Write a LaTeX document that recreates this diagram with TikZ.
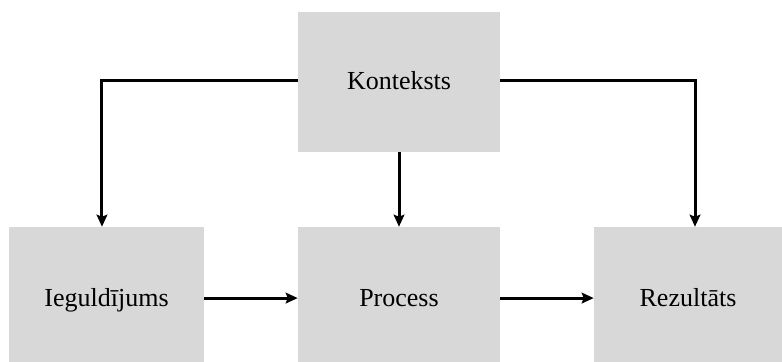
\documentclass[tikz,border=0pt]{standalone}
\usepackage{fontspec}
\setmainfont{Liberation Serif}
\usetikzlibrary{arrows.meta}
\definecolor{boxgray}{RGB}{216,216,216}
\begin{document}
\begin{tikzpicture}[x=0.75pt,y=-0.75pt,
  blockbox/.style={fill=boxgray,draw=none,inner sep=0pt,
    text height=12pt,text depth=1pt,
    font=\fontsize{19.5}{23}\selectfont},
  link/.style={line width=2.25pt,-{Stealth[length=9pt,width=8pt,inset=1.5pt]}}]
\useasboundingbox (0,0) rectangle (782,361);
% the four blocks (the lower row runs past the bottom edge)
\node[blockbox,minimum width=151.5pt,minimum height=105pt] (ctx) at (399,82) {Konteksts};
\node[blockbox,minimum width=146.25pt,minimum height=108.6pt] (inp) at (106.5,299.4) {Ieguldījums};
\node[blockbox,minimum width=151.5pt,minimum height=108.6pt] (prc) at (399,299.4) {Process};
\node[blockbox,minimum width=141pt,minimum height=108.6pt] (res) at (688,299.4) {Rezultāts};
% connectors
\draw[link] ([yshift=1.5pt]ctx.west) -| ([xshift=-3.4pt]inp.north);
\draw[link] (ctx.south) -- (prc.north);
\draw[link] ([yshift=1.5pt]ctx.east) -| ([xshift=5.25pt]res.north);
\draw[link] ([yshift=1pt]inp.east) -- ([yshift=1pt]prc.west);
\draw[link] ([yshift=1pt]prc.east) -- ([yshift=1pt]res.west);
\end{tikzpicture}
\end{document}
